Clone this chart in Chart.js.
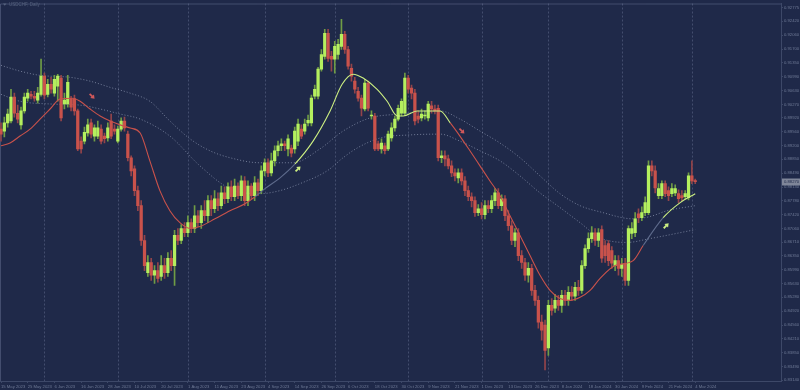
<!DOCTYPE html>
<html>
<head>
<meta charset="utf-8">
<title>USDCHF, Daily</title>
<script src="https://cdn.jsdelivr.net/npm/chart.js@4.4.0/dist/chart.umd.min.js"></script>
<style>
  html, body { margin: 0; padding: 0; background: #1f2949; }
  #wrap { width: 800px; height: 390px; }
</style>
</head>
<body>
<div id="wrap"><canvas id="chart" width="800" height="390"></canvas></div>
<script>
// USDCHF daily candles, 15 May 2023 .. 4 Mar 2024 (index = trading day)
var open = [
  0.8963,0.8958,0.8979,0.8984,0.9046,0.9004,0.8974,0.9010,0.9043,0.9053,
  0.9048,0.9038,0.9053,0.9100,0.9053,0.9079,0.9056,0.9074,0.9095,0.9028,
  0.9028,0.9041,0.9041,0.9010,0.8932,0.8932,0.8953,0.8979,0.8945,0.8945,
  0.8963,0.8945,0.8940,0.8984,0.8963,0.8932,0.8963,0.8984,0.8950,0.8889,
  0.8860,0.8804,0.8765,0.8675,0.8592,0.8618,0.8585,0.8597,0.8582,0.8610,
  0.8592,0.8629,0.8610,0.8688,0.8675,0.8706,0.8695,0.8721,0.8706,0.8739,
  0.8721,0.8752,0.8739,0.8778,0.8757,0.8783,0.8765,0.8798,0.8783,0.8814,
  0.8788,0.8816,0.8791,0.8829,0.8778,0.8816,0.8791,0.8824,0.8804,0.8855,
  0.8876,0.8850,0.8881,0.8907,0.8920,0.8925,0.8912,0.8914,0.8912,0.8932,
  0.8963,0.8958,0.8979,0.8979,0.9048,0.9048,0.9118,0.9151,0.9211,0.9151,
  0.9144,0.9156,0.9177,0.9208,0.9169,0.9120,0.9087,0.9061,0.9043,0.9015,
  0.9082,0.8997,0.8997,0.8925,0.8912,0.8920,0.8912,0.8940,0.8966,0.8989,
  0.9004,0.9004,0.9095,0.9069,0.9056,0.8997,0.8992,0.8997,0.8992,0.9023,
  0.9015,0.9017,0.8889,0.8894,0.8886,0.8868,0.8850,0.8837,0.8850,0.8829,
  0.8804,0.8788,0.8778,0.8747,0.8757,0.8742,0.8765,0.8757,0.8778,0.8798,
  0.8765,0.8783,0.8739,0.8713,0.8675,0.8695,0.8636,0.8618,0.8585,0.8603,
  0.8546,0.8520,0.8464,0.8456,0.8397,0.8507,0.8500,0.8520,0.8507,0.8533,
  0.8520,0.8541,0.8531,0.8554,0.8546,0.8610,0.8654,0.8680,0.8695,0.8675,
  0.8703,0.8662,0.8667,0.8649,0.8610,0.8623,0.8603,0.8616,0.8572,0.8693,
  0.8695,0.8744,0.8734,0.8747,0.8747,0.8868,0.8855,0.8791,0.8791,0.8822,
  0.8804,0.8796,0.8798,0.8796,0.8791,0.8788,0.8786,0.8842,0.8829
];
var high = [
  0.8979,0.8994,0.9015,0.9066,0.9056,0.9025,0.9020,0.9056,0.9066,0.9061,
  0.9061,0.9071,0.9144,0.9108,0.9092,0.9097,0.9102,0.9105,0.9102,0.9056,
  0.9102,0.9048,0.9051,0.9015,0.8943,0.8968,0.8989,0.8989,0.8974,0.8984,
  0.8974,0.8953,0.8979,0.9002,0.8974,0.8971,0.8992,0.8994,0.8958,0.8894,
  0.8868,0.8816,0.8778,0.8688,0.8636,0.8629,0.8610,0.8618,0.8636,0.8629,
  0.8644,0.8649,0.8701,0.8706,0.8716,0.8721,0.8739,0.8731,0.8765,0.8752,
  0.8765,0.8778,0.8791,0.8791,0.8804,0.8798,0.8816,0.8814,0.8824,0.8829,
  0.8834,0.8824,0.8842,0.8840,0.8829,0.8822,0.8840,0.8834,0.8868,0.8886,
  0.8886,0.8901,0.8920,0.8932,0.8938,0.8932,0.8948,0.8922,0.8968,0.8989,
  0.8974,0.8989,0.8999,0.9051,0.9077,0.9123,0.9169,0.9221,0.9221,0.9164,
  0.9190,0.9195,0.9247,0.9216,0.9177,0.9131,0.9097,0.9071,0.9051,0.9092,
  0.9087,0.9010,0.9004,0.8932,0.8938,0.8927,0.8958,0.8979,0.8997,0.9025,
  0.9041,0.9108,0.9102,0.9077,0.9066,0.9010,0.9015,0.9010,0.9035,0.9035,
  0.9025,0.9025,0.8907,0.8907,0.8896,0.8881,0.8860,0.8860,0.8860,0.8840,
  0.8816,0.8798,0.8788,0.8768,0.8773,0.8778,0.8778,0.8791,0.8809,0.8809,
  0.8793,0.8791,0.8752,0.8726,0.8706,0.8706,0.8649,0.8629,0.8618,0.8613,
  0.8559,0.8531,0.8482,0.8469,0.8520,0.8525,0.8536,0.8533,0.8546,0.8546,
  0.8556,0.8556,0.8567,0.8572,0.8623,0.8664,0.8695,0.8711,0.8706,0.8706,
  0.8713,0.8675,0.8675,0.8659,0.8636,0.8636,0.8629,0.8629,0.8713,0.8721,
  0.8747,0.8757,0.8762,0.8788,0.8881,0.8881,0.8868,0.8822,0.8829,0.8829,
  0.8814,0.8822,0.8819,0.8806,0.8804,0.8804,0.8850,0.8881,0.8834
];
var low = [
  0.8932,0.8943,0.8968,0.8979,0.8994,0.8979,0.8963,0.9004,0.9035,0.9041,
  0.9035,0.9030,0.9048,0.9041,0.9046,0.9056,0.9048,0.9035,0.8984,0.9015,
  0.9020,0.9010,0.8999,0.8907,0.8901,0.8925,0.8945,0.8940,0.8932,0.8938,
  0.8925,0.8927,0.8932,0.8938,0.8950,0.8927,0.8958,0.8958,0.8881,0.8842,
  0.8791,0.8752,0.8662,0.8597,0.8582,0.8572,0.8564,0.8567,0.8572,0.8577,
  0.8582,0.8597,0.8559,0.8664,0.8667,0.8685,0.8685,0.8695,0.8695,0.8711,
  0.8706,0.8726,0.8721,0.8739,0.8747,0.8752,0.8757,0.8770,0.8773,0.8778,
  0.8778,0.8783,0.8778,0.8765,0.8765,0.8783,0.8778,0.8791,0.8796,0.8842,
  0.8840,0.8842,0.8868,0.8894,0.8907,0.8907,0.8894,0.8891,0.8901,0.8920,
  0.8938,0.8950,0.8971,0.8971,0.9041,0.9041,0.9113,0.9144,0.9138,0.9113,
  0.9108,0.9144,0.9169,0.9159,0.9118,0.9087,0.9056,0.9035,0.8997,0.9010,
  0.9010,0.8989,0.8907,0.8907,0.8901,0.8899,0.8907,0.8932,0.8958,0.8984,
  0.8997,0.8999,0.9056,0.9041,0.8974,0.8979,0.8984,0.8989,0.8984,0.9004,
  0.9002,0.8881,0.8876,0.8868,0.8860,0.8840,0.8829,0.8824,0.8819,0.8791,
  0.8778,0.8762,0.8737,0.8739,0.8731,0.8731,0.8747,0.8747,0.8765,0.8757,
  0.8752,0.8726,0.8701,0.8664,0.8659,0.8623,0.8603,0.8572,0.8567,0.8533,
  0.8507,0.8448,0.8417,0.8340,0.8378,0.8482,0.8489,0.8494,0.8489,0.8507,
  0.8507,0.8520,0.8520,0.8533,0.8538,0.8603,0.8644,0.8670,0.8662,0.8659,
  0.8618,0.8618,0.8610,0.8603,0.8597,0.8585,0.8582,0.8559,0.8559,0.8680,
  0.8685,0.8721,0.8726,0.8739,0.8742,0.8842,0.8798,0.8783,0.8783,0.8788,
  0.8778,0.8788,0.8791,0.8773,0.8778,0.8783,0.8780,0.8822,0.8822
];
var close = [
  0.8950,0.8979,0.9002,0.9046,0.9004,0.8989,0.9010,0.9046,0.9056,0.9048,
  0.9043,0.9056,0.9100,0.9051,0.9079,0.9066,0.9092,0.9100,0.8992,0.9038,
  0.9084,0.9020,0.9010,0.8912,0.8912,0.8955,0.8974,0.8950,0.8966,0.8966,
  0.8932,0.8938,0.8966,0.8945,0.8958,0.8963,0.8984,0.8966,0.8889,0.8855,
  0.8804,0.8765,0.8675,0.8610,0.8618,0.8585,0.8597,0.8577,0.8610,0.8592,
  0.8629,0.8610,0.8688,0.8675,0.8706,0.8695,0.8721,0.8706,0.8739,0.8721,
  0.8752,0.8739,0.8778,0.8757,0.8783,0.8765,0.8798,0.8783,0.8814,0.8788,
  0.8816,0.8791,0.8829,0.8778,0.8816,0.8791,0.8824,0.8804,0.8855,0.8876,
  0.8850,0.8881,0.8907,0.8920,0.8925,0.8920,0.8938,0.8901,0.8958,0.8976,
  0.8945,0.8976,0.8986,0.9043,0.9066,0.9118,0.9156,0.9211,0.9146,0.9144,
  0.9177,0.9182,0.9208,0.9169,0.9126,0.9100,0.9066,0.9043,0.9017,0.9082,
  0.9017,0.8999,0.8912,0.8912,0.8927,0.8907,0.8950,0.8966,0.8989,0.9017,
  0.9035,0.9095,0.9066,0.9056,0.8984,0.8989,0.9002,0.8999,0.9028,0.9015,
  0.9010,0.8889,0.8894,0.8886,0.8868,0.8850,0.8842,0.8850,0.8829,0.8804,
  0.8788,0.8778,0.8747,0.8757,0.8742,0.8765,0.8757,0.8778,0.8798,0.8765,
  0.8783,0.8739,0.8713,0.8675,0.8695,0.8636,0.8618,0.8585,0.8603,0.8546,
  0.8520,0.8464,0.8443,0.8391,0.8507,0.8494,0.8520,0.8507,0.8533,0.8520,
  0.8541,0.8531,0.8554,0.8546,0.8610,0.8654,0.8680,0.8695,0.8675,0.8695,
  0.8629,0.8636,0.8623,0.8616,0.8623,0.8603,0.8613,0.8572,0.8706,0.8706,
  0.8731,0.8734,0.8747,0.8773,0.8868,0.8855,0.8811,0.8809,0.8822,0.8796,
  0.8791,0.8809,0.8809,0.8783,0.8786,0.8796,0.8842,0.8829,0.8827
];

// trend moving average (index, price)
var maIdx = [0,2.7,5.7,8.7,11.7,14.7,17.7,21.6,23.7,26.7,29.7,32.7,35.7,38.7,41.7,44.6,47.6,50.6,53.6,56.6,
  59.6,64.1,68.6,73.1,76.1,79.1,83.6,88.1,93.5,98.6,102.2,105.5,108.5,112.7,115.7,118.7,120.5,124.7,131.6,134.6,
  137.5,140.5,143.5,146.5,149.5,152.5,155.5,158.5,161.5,164.5,167.5,170.5,173.5,176.5,179.5,184,189.4,192.4,198.4,203.5,208];
var maVal = [0.8920,0.8927,0.8945,0.8963,0.8989,0.9015,0.9041,0.9043,0.9035,0.9015,0.8997,0.8984,0.8974,0.8966,0.8953,0.8881,0.8804,0.8752,0.8721,0.8706,
  0.8711,0.8731,0.8752,0.8770,0.8788,0.8809,0.8837,0.8873,0.8932,0.9010,0.9079,0.9105,0.9095,0.9066,0.9035,0.8997,0.8997,0.9010,0.9010,0.8979,
  0.8945,0.8907,0.8868,0.8829,0.8791,0.8739,0.8688,0.8636,0.8585,0.8546,0.8525,0.8520,0.8528,0.8546,0.8577,0.8610,0.8623,0.8662,0.8734,0.8773,0.8796];

// envelope bands (dotted)
var upIdx = [0,5.7,11.7,20.7,26.7,32.7,38.7,44.6,50.6,56.6,62.6,68.6,77.6,87.5,95.6,102.5,110.6,119.6,131.6,137.5,
  143.5,149.5,155.5,161.5,167.5,173.5,179.5,189.4,194.5,199.6,208];
var upVal = [0.9128,0.9113,0.9102,0.9097,0.9087,0.9071,0.9056,0.9035,0.8984,0.8938,0.8907,0.8889,0.8876,0.8876,0.8912,0.8958,0.8992,0.9002,0.9010,0.8989,
  0.8958,0.8927,0.8889,0.8842,0.8796,0.8765,0.8749,0.8731,0.8737,0.8752,0.8765];
var loIdx = [0,5.7,14.7,23.7,29.7,35.7,41.7,50.6,59.6,68.6,77.6,83.6,89.6,97.7,102.5,106.7,113.6,122.6,131.6,137.5,
  143.5,149.5,155.5,161.5,167.5,173.5,179.5,187.6,194.5,208];
var loVal = [0.9053,0.9035,0.9028,0.9025,0.9015,0.9002,0.8989,0.8945,0.8868,0.8809,0.8796,0.8804,0.8822,0.8855,0.8889,0.8914,0.8940,0.8948,0.8950,0.8932,
  0.8907,0.8881,0.8842,0.8798,0.8760,0.8721,0.8682,0.8670,0.8680,0.8703];

// signal arrows
var arrowIdx = [27.3, 138.1, 89.0, 199.3];
var arrowVal = [0.9048, 0.8958, 0.8860, 0.8713];
var arrowDir = ['down', 'down', 'up', 'up'];

// axes
var tickIdx = [0,8,16,24,32,40,48,56,64,72,80,88,96,104,112,120,128,136,144,152,160,168,176,184,192,200,208];
var tickLabels = ['15 May 2023','25 May 2023','6 Jun 2023','16 Jun 2023','28 Jun 2023','10 Jul 2023','20 Jul 2023',
  '1 Aug 2023','11 Aug 2023','23 Aug 2023','4 Sep 2023','14 Sep 2023','26 Sep 2023','6 Oct 2023','18 Oct 2023',
  '30 Oct 2023','9 Nov 2023','21 Nov 2023','1 Dec 2023','13 Dec 2023','26 Dec 2023','8 Jan 2024','18 Jan 2024',
  '30 Jan 2024','9 Feb 2024','21 Feb 2024','4 Mar 2024'];
var monthIdx = [13,35,56,79,100,122,144,164,186,207];
var yTicks = [0.92775,0.92420,0.92060,0.91700,0.91350,0.90990,0.90630,0.90270,0.89920,0.89560,0.89200,0.88850,0.88490,0.88130,
  0.87780,0.87420,0.87060,0.86710,0.86350,0.85990,0.85630,0.85280,0.84920,0.84560,0.84210,0.83850,0.83490,0.83140];

var BG = '#1f2949';
var UP = '#b4ef5e', DOWN = '#c9524b';
var UP_WICK = '#6f9c45', DOWN_WICK = '#93444a';
var AXIS = '#6f7a96';
var FONT = '"Liberation Sans", Arial, sans-serif';

function pairs(xs, ys) {
  return xs.map(function (x, i) { return {x: x, y: ys[i]}; });
}

function maColor(x) {
  if (x < 76) return '#c9524b';
  if (x < 88) return '#5e6b8c';
  if (x < 132) return '#cdf082';
  if (x < 192.4) return '#c9524b';
  if (x < 198.4) return '#5e6b8c';
  return '#cdf082';
}

var isUp = close.map(function (c, i) { return c >= open[i]; });

var decor = {
  id: 'decor',
  beforeDraw: function (chart) {
    var ctx = chart.ctx;
    ctx.save();
    ctx.fillStyle = BG;
    ctx.fillRect(0, 0, chart.width, chart.height);
    ctx.restore();
  },
  beforeDatasetsDraw: function (chart) {
    var ctx = chart.ctx, a = chart.chartArea, xs = chart.scales.x;
    ctx.save();
    ctx.strokeStyle = 'rgba(110,122,155,0.45)';
    ctx.lineWidth = 1;
    ctx.setLineDash([2, 2]);
    monthIdx.forEach(function (m) {
      var px = Math.round(xs.getPixelForValue(m)) + 0.5;
      ctx.beginPath();
      ctx.moveTo(px, a.top);
      ctx.lineTo(px, a.bottom);
      ctx.stroke();
    });
    ctx.setLineDash([]);
    ctx.beginPath();
    ctx.moveTo(a.left + 0.5, a.bottom);
    ctx.lineTo(a.left + 0.5, a.top + 0.5);
    ctx.lineTo(a.right, a.top + 0.5);
    ctx.stroke();
    ctx.restore();
  },
  afterDatasetsDraw: function (chart) {
    var ctx = chart.ctx, xs = chart.scales.x, ys = chart.scales.y, a = chart.chartArea;
    ctx.save();
    // arrows
    arrowIdx.forEach(function (ix, k) {
      var px = xs.getPixelForValue(ix), py = ys.getPixelForValue(arrowVal[k]);
      var up = arrowDir[k] === 'up';
      ctx.save();
      ctx.translate(px, py);
      ctx.rotate(up ? -Math.PI / 4 : Math.PI / 4);
      ctx.fillStyle = up ? '#cdf082' : '#d0585a';
      ctx.fillRect(-3.5, -0.9, 4, 1.8);
      ctx.beginPath();
      ctx.moveTo(0, -2.6);
      ctx.lineTo(3.5, 0);
      ctx.lineTo(0, 2.6);
      ctx.closePath();
      ctx.fill();
      ctx.restore();
    });
    // title
    ctx.fillStyle = '#56627e';
    ctx.font = '4.5px ' + FONT;
    ctx.textBaseline = 'middle';
    ctx.textAlign = 'left';
    ctx.beginPath();
    ctx.moveTo(3, 3.5); ctx.lineTo(6.5, 3.5); ctx.lineTo(4.75, 5.8); ctx.closePath();
    ctx.fill();
    ctx.fillText('USDCHF, Daily', 9, 5);
    // last price label
    var last = close[close.length - 1];
    var ly = Math.round(ys.getPixelForValue(last));
    ctx.fillStyle = '#7f8699';
    ctx.fillRect(a.right + 1, ly - 3.5, 18, 7);
    ctx.fillStyle = '#1f2949';
    ctx.font = '4.2px ' + FONT;
    ctx.fillText(last.toFixed(5), a.right + 3, ly + 0.3);
    ctx.restore();
  }
};

Chart.defaults.font.family = FONT;
Chart.defaults.font.size = 4.2;
Chart.defaults.color = AXIS;

new Chart(document.getElementById('chart'), {
  type: 'bar',
  data: {
    datasets: [
      {
        type: 'line',
        data: pairs(maIdx, maVal),
        borderWidth: 1.1,
        pointRadius: 0,
        cubicInterpolationMode: 'monotone',
        segment: {
          borderColor: function (c) { return maColor(c.p0.parsed.x); }
        },
        borderColor: '#c9524b',
        order: 0
      },
      {
        data: close.map(function (c, i) { return {x: i, y: [open[i], c]}; }),
        backgroundColor: isUp.map(function (u) { return u ? UP : DOWN; }),
        barThickness: 2.6,
        minBarLength: 1,
        grouped: false,
        order: 1
      },
      {
        data: high.map(function (h, i) { return {x: i, y: [low[i], h]}; }),
        backgroundColor: isUp.map(function (u) { return u ? UP_WICK : DOWN_WICK; }),
        barThickness: 1,
        grouped: false,
        order: 2
      },
      {
        type: 'line',
        data: pairs(upIdx, upVal),
        borderColor: 'rgba(150,160,185,0.7)',
        borderWidth: 1,
        borderDash: [1, 2],
        pointRadius: 0,
        cubicInterpolationMode: 'monotone',
        order: 3
      },
      {
        type: 'line',
        data: pairs(loIdx, loVal),
        borderColor: 'rgba(150,160,185,0.7)',
        borderWidth: 1,
        borderDash: [1, 2],
        pointRadius: 0,
        cubicInterpolationMode: 'monotone',
        order: 3
      }
    ]
  },
  options: {
    responsive: false,
    devicePixelRatio: 1,
    animation: false,
    layout: { padding: { top: 2, left: 0, right: 0, bottom: 0 } },
    plugins: { legend: { display: false }, tooltip: { enabled: false } },
    scales: {
      x: {
        type: 'linear',
        min: -0.3,
        max: 233.7,
        offset: false,
        afterBuildTicks: function (s) { s.ticks = tickIdx.map(function (v) { return {value: v}; }); },
        afterFit: function (s) { s.height = 9; },
        ticks: {
          autoSkip: false,
          maxRotation: 0,
          align: 'start',
          padding: 1,
          color: AXIS,
          font: { size: 4.2, family: FONT },
          callback: function (v) { return tickLabels[tickIdx.indexOf(v)]; }
        },
        grid: { display: true, drawOnChartArea: false, drawTicks: true, tickLength: 2, color: '#3d4868', offset: false },
        border: { display: true, color: '#3d4868' }
      },
      y: {
        type: 'linear',
        position: 'right',
        min: 0.83116,
        max: 0.92878,
        afterBuildTicks: function (s) { s.ticks = yTicks.map(function (v) { return {value: v}; }); },
        afterFit: function (s) { s.width = 19; },
        ticks: {
          padding: 1,
          color: AXIS,
          font: { size: 4.2, family: FONT },
          callback: function (v) { return v.toFixed(5); }
        },
        grid: { display: true, drawOnChartArea: false, drawTicks: true, tickLength: 2, color: '#3d4868' },
        border: { display: true, color: '#3d4868' }
      }
    }
  },
  plugins: [decor]
});
</script>
</body>
</html>
